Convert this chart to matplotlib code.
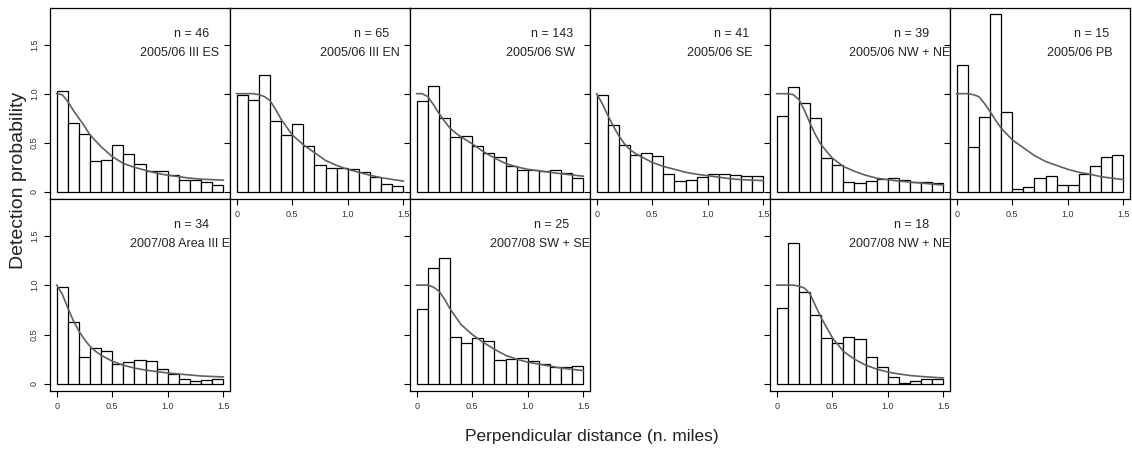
import matplotlib
matplotlib.use("Agg")
import matplotlib.pyplot as plt
import numpy as np

plt.rcParams['font.family'] = ['Liberation Sans', 'DejaVu Sans']

# histogram bins (n. miles)
bin_left = [0.0, 0.1, 0.2, 0.3, 0.4, 0.5, 0.6, 0.7, 0.8, 0.9, 1.0, 1.1, 1.2, 1.3, 1.4]
bin_width = 0.1

curve_x = [0, 0.05, 0.1, 0.15, 0.2, 0.25, 0.3, 0.35, 0.4, 0.5,
           0.6, 0.7, 0.8, 0.9, 1.0, 1.1, 1.2, 1.3, 1.5]

# panel labels
names = ["2005/06 III ES", "2005/06 III EN", "2005/06 SW", "2005/06 SE",
         "2005/06 NW + NE", "2005/06 PB",
         "2007/08 Area III E", "2007/08 SW + SE", "2007/08 NW + NE"]
n_obs = [46, 65, 143, 41, 39, 15, 34, 25, 18]

# scaled histogram heights
bars_es = [1.03, 0.70, 0.585, 0.31, 0.33, 0.48, 0.39, 0.28, 0.21, 0.21, 0.17, 0.12, 0.12, 0.10, 0.07]
bars_en = [0.99, 0.94, 1.19, 0.72, 0.58, 0.69, 0.47, 0.27, 0.24, 0.24, 0.23, 0.20, 0.15, 0.08, 0.06]
bars_sw = [0.93, 1.08, 0.75, 0.56, 0.57, 0.47, 0.40, 0.355, 0.26, 0.22, 0.22, 0.21, 0.22, 0.19, 0.14]
bars_se = [0.99, 0.68, 0.48, 0.375, 0.395, 0.37, 0.18, 0.11, 0.12, 0.15, 0.18, 0.18, 0.17, 0.16, 0.16]
bars_nwne = [0.77, 1.07, 0.90, 0.75, 0.35, 0.27, 0.10, 0.09, 0.115, 0.13, 0.14, 0.12, 0.10, 0.10, 0.09]
bars_pb = [1.29, 0.46, 0.76, 1.81, 0.81, 0.03, 0.05, 0.14, 0.16, 0.07, 0.07, 0.18, 0.26, 0.355, 0.38]
bars_e08 = [0.98, 0.63, 0.275, 0.36, 0.335, 0.20, 0.22, 0.245, 0.235, 0.15, 0.10, 0.05, 0.03, 0.04, 0.05]
bars_swse08 = [0.76, 1.17, 1.27, 0.475, 0.41, 0.46, 0.43, 0.245, 0.255, 0.265, 0.235, 0.20, 0.175, 0.17, 0.18]
bars_nwne08 = [0.77, 1.43, 0.93, 0.70, 0.46, 0.41, 0.475, 0.45, 0.275, 0.17, 0.07, 0.01, 0.03, 0.05, 0.05]

# fitted detection functions
curve_es = [1.0, 0.99, 0.92, 0.83, 0.75, 0.67, 0.58, 0.52, 0.46, 0.36, 0.29, 0.25, 0.22, 0.19, 0.17, 0.155, 0.14, 0.13, 0.12]
curve_en = [1.0, 1.0, 1.0, 1.0, 0.99, 0.97, 0.93, 0.84, 0.74, 0.58, 0.48, 0.40, 0.32, 0.27, 0.23, 0.20, 0.17, 0.145, 0.11]
curve_sw = [1.0, 1.0, 0.97, 0.89, 0.80, 0.72, 0.65, 0.60, 0.56, 0.49, 0.41, 0.345, 0.29, 0.255, 0.23, 0.215, 0.20, 0.185, 0.16]
curve_se = [1.0, 0.90, 0.78, 0.67, 0.57, 0.49, 0.43, 0.39, 0.36, 0.30, 0.26, 0.23, 0.20, 0.18, 0.165, 0.15, 0.135, 0.125, 0.115]
curve_nwne = [1.0, 1.0, 1.0, 0.99, 0.94, 0.83, 0.70, 0.58, 0.48, 0.345, 0.26, 0.21, 0.17, 0.14, 0.125, 0.11, 0.10, 0.09, 0.07]
curve_pb = [1.0, 1.0, 1.0, 0.99, 0.97, 0.90, 0.82, 0.73, 0.65, 0.53, 0.45, 0.37, 0.31, 0.27, 0.23, 0.20, 0.18, 0.155, 0.125]
curve_e08 = [1.0, 0.91, 0.77, 0.64, 0.535, 0.45, 0.38, 0.33, 0.29, 0.23, 0.19, 0.16, 0.14, 0.125, 0.11, 0.10, 0.09, 0.08, 0.07]
curve_swse08 = [1.0, 1.0, 1.0, 0.98, 0.94, 0.86, 0.76, 0.68, 0.60, 0.50, 0.42, 0.35, 0.29, 0.25, 0.22, 0.20, 0.18, 0.16, 0.135]
curve_nwne08 = [1.0, 1.0, 1.0, 1.0, 0.99, 0.97, 0.91, 0.79, 0.67, 0.47, 0.33, 0.25, 0.19, 0.15, 0.12, 0.10, 0.085, 0.075, 0.06]

all_bars = [bars_es, bars_en, bars_sw, bars_se, bars_nwne, bars_pb,
            bars_e08, bars_swse08, bars_nwne08]
all_curves = [curve_es, curve_en, curve_sw, curve_se, curve_nwne, curve_pb,
              curve_e08, curve_swse08, curve_nwne08]

# (row, column) of each panel in the 2 x 6 grid
slots = [(0, 0), (0, 1), (0, 2), (0, 3), (0, 4), (0, 5),
         (1, 0), (1, 2), (1, 4)]

W, H = 1132, 451
fig = plt.figure(figsize=(W / 100, H / 100), dpi=100)

ticks = [0, 0.5, 1.0, 1.5]
tick_labels = ["0", "0.5", "1.0", "1.5"]
occupied = set(slots)

for i in range(len(names)):
    row, col = slots[i]
    left = (50 + 180 * col) / W
    if row == 0:
        top_px, bot_px = 8, 199
    else:
        top_px, bot_px = 199, 391
    ax = fig.add_axes([left, 1 - bot_px / H, 180 / W, (bot_px - top_px) / H])

    ax.bar(bin_left, all_bars[i], width=bin_width, align='edge',
           facecolor='white', edgecolor='black', linewidth=0.9)
    ax.plot(curve_x, all_curves[i], color='#606060', linewidth=1.2)

    ax.set_xlim(-0.06, 1.56)
    ax.set_ylim(-0.072, 1.872)

    ax.text(1.218, 1.61, "n = %d" % n_obs[i], ha='center', va='center',
            fontsize=9, color='#222222', clip_on=True)
    ax.text(1.11, 1.415, names[i], ha='center', va='center',
            fontsize=9, color='#222222', clip_on=True)

    ax.set_xticks(ticks)
    ax.set_yticks(ticks)
    ax.tick_params(length=4, width=0.8, labelsize=6.5, colors='black',
                   labelcolor='#333333', pad=4)
    # x labels only where nothing sits below the panel
    if row == 1 or (1, col) not in occupied:
        ax.set_xticklabels(tick_labels)
    else:
        ax.set_xticklabels([])
    if col == 0:
        ax.set_yticklabels(tick_labels, rotation=90, va='center')
    else:
        ax.set_yticklabels([])
    for s in ax.spines.values():
        s.set_linewidth(0.9)

fig.text(592 / W, 1 - 437 / H, "Perpendicular distance (n. miles)",
         ha='center', va='center', fontsize=12.5, color='#222222')
fig.text(19 / W, 1 - 180 / H, "Detection probability", rotation=90,
         ha='center', va='center', fontsize=14, color='#222222')

fig.savefig("out.png", dpi=100)
